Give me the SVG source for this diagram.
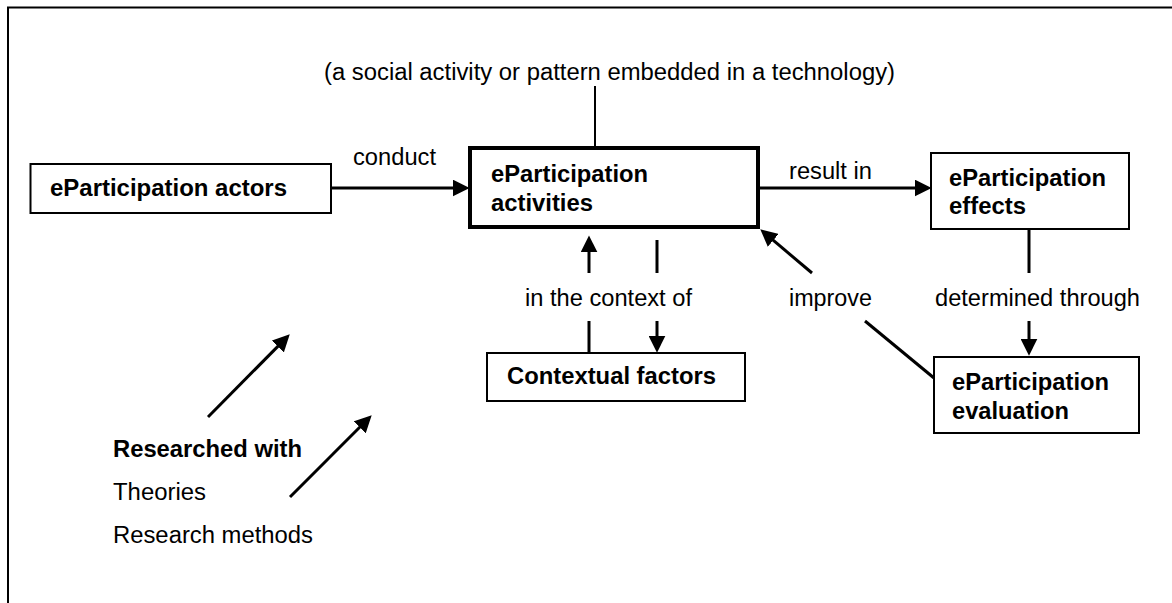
<svg xmlns="http://www.w3.org/2000/svg" width="1172" height="603" viewBox="0 0 1172 603">
<style>
  .t { font-family: "Liberation Sans", Arial, sans-serif; font-size: 23px; fill: #000; }
  .b { font-weight: bold; }
  .box { fill: #fff; stroke: #000; stroke-width: 2; }
  .main { fill: #fff; stroke: #000; stroke-width: 4; }
  .ln { fill: none; stroke: #000; stroke-width: 3; }
  .arr { fill: none; stroke: #000; stroke-width: 3; marker-end: url(#ah); }
</style>
<defs>
  <marker id="ah" markerUnits="userSpaceOnUse" viewBox="0 0 16 16" markerWidth="17" markerHeight="17" refX="6" refY="8" orient="auto">
    <path d="M0,0 L16,8 L0,16 z" fill="#000"/>
  </marker>
</defs>
<rect width="1172" height="603" fill="#fff"/>
<path d="M8,604 V7.5 H1173" fill="none" stroke="#000" stroke-width="2"/>

<g id="annotation">
  <text class="t" x="324" y="80" textLength="571" lengthAdjust="spacingAndGlyphs">(a social activity or pattern embedded in a technology)</text>
</g>

<g id="connectors">
  <line x1="595" y1="86" x2="595" y2="148" stroke="#000" stroke-width="2"/>
  <line class="arr" x1="331" y1="188" x2="459" y2="188"/>
  <line class="arr" x1="760" y1="188" x2="921" y2="188"/>
  <line class="ln" x1="1029" y1="229" x2="1029" y2="273"/>
  <line class="arr" x1="1029" y1="321" x2="1029" y2="345"/>
  <line class="arr" x1="589" y1="273" x2="589" y2="246"/>
  <line class="ln" x1="589" y1="321" x2="589" y2="353"/>
  <line class="ln" x1="657" y1="240" x2="657" y2="273"/>
  <line class="arr" x1="657" y1="321" x2="657" y2="342"/>
  <line class="arr" x1="812" y1="273" x2="768.4" y2="236.2"/>
  <line class="ln" x1="865" y1="321" x2="934" y2="378"/>
  <line class="arr" x1="208" y1="417" x2="282.3" y2="341.9"/>
  <line class="arr" x1="290" y1="497" x2="364.2" y2="422.8"/>
</g>

<g id="labels">
  <text class="t" x="353" y="165" textLength="83" lengthAdjust="spacingAndGlyphs">conduct</text>
  <text class="t" x="789" y="179" textLength="83" lengthAdjust="spacingAndGlyphs">result in</text>
  <text class="t" x="525" y="306" textLength="167" lengthAdjust="spacingAndGlyphs">in the context of</text>
  <text class="t" x="789" y="306" textLength="83" lengthAdjust="spacingAndGlyphs">improve</text>
  <text class="t" x="935" y="306" textLength="205" lengthAdjust="spacingAndGlyphs">determined through</text>
</g>

<g id="actors">
  <rect class="box" x="30.5" y="164" width="300.5" height="49"/>
  <text class="t b" x="50" y="196" textLength="237" lengthAdjust="spacingAndGlyphs">eParticipation actors</text>
</g>

<g id="activities">
  <rect class="main" x="470" y="148" width="288" height="79"/>
  <text class="t b" x="491" y="182" textLength="157" lengthAdjust="spacingAndGlyphs">eParticipation</text>
  <text class="t b" x="491" y="211" textLength="102" lengthAdjust="spacingAndGlyphs">activities</text>
</g>

<g id="effects">
  <rect class="box" x="931" y="153" width="198" height="76"/>
  <text class="t b" x="949" y="186" textLength="157" lengthAdjust="spacingAndGlyphs">eParticipation</text>
  <text class="t b" x="949" y="214" textLength="77" lengthAdjust="spacingAndGlyphs">effects</text>
</g>

<g id="contextual">
  <rect class="box" x="487" y="353" width="258" height="48"/>
  <text class="t b" x="507" y="384" textLength="209" lengthAdjust="spacingAndGlyphs">Contextual factors</text>
</g>

<g id="evaluation">
  <rect class="box" x="934" y="357" width="205" height="76"/>
  <text class="t b" x="952" y="390" textLength="157" lengthAdjust="spacingAndGlyphs">eParticipation</text>
  <text class="t b" x="952" y="419" textLength="117" lengthAdjust="spacingAndGlyphs">evaluation</text>
</g>

<g id="research">
  <text class="t b" x="113" y="457" textLength="189" lengthAdjust="spacingAndGlyphs">Researched with</text>
  <text class="t" x="113" y="500" textLength="93" lengthAdjust="spacingAndGlyphs">Theories</text>
  <text class="t" x="113" y="543" textLength="200" lengthAdjust="spacingAndGlyphs">Research methods</text>
</g>
</svg>
